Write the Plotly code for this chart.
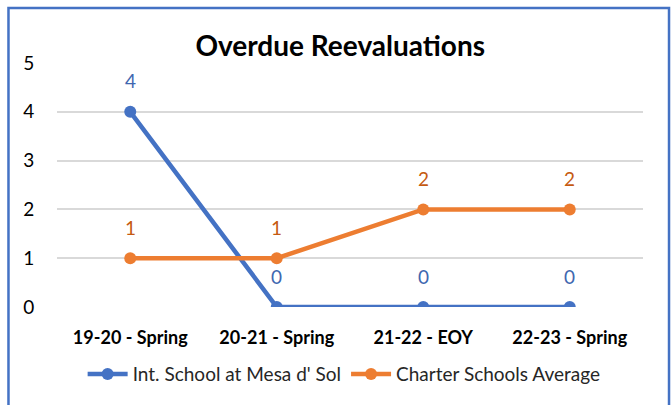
import plotly.graph_objects as go

categories = ["19-20 - Spring", "20-21 - Spring", "21-22 - EOY", "22-23 - Spring"]
school_values = [4, 0, 0, 0]
charter_values = [1, 1, 2, 2]

BLUE = "#4472C4"
ORANGE = "#ED7D31"
FONT = "Lato, Liberation Sans, sans-serif"

fig = go.Figure()
fig.add_trace(go.Scatter(
    x=categories, y=school_values, name="Int. School at Mesa d' Sol",
    mode="lines+markers", line=dict(color=BLUE, width=4.5),
    marker=dict(size=12, color=BLUE)
))
fig.add_trace(go.Scatter(
    x=categories, y=charter_values, name="Charter Schools Average",
    mode="lines+markers", line=dict(color=ORANGE, width=4.5),
    marker=dict(size=12, color=ORANGE)
))

# data labels above each point
for vals, col in [(school_values, "#3F67B0"), (charter_values, "#C55A11")]:
    for c, v in zip(categories, vals):
        fig.add_annotation(x=c, y=v, text=str(v), showarrow=False,
                           yshift=31, font=dict(size=19, color=col, family=FONT))

# outer chart border
fig.add_shape(type="rect", xref="paper", yref="paper",
              x0=-0.0828, x1=1.0444, y0=-0.45, y1=1.2258,
              line=dict(color=BLUE, width=2.5))

fig.update_layout(
    width=671, height=405,
    margin=dict(l=57, r=28, t=63, b=94),
    paper_bgcolor="white", plot_bgcolor="white",
    font=dict(family=FONT, color="#262626"),
    title=dict(text="<b>Overdue Reevaluations</b>", x=0.507, xanchor="center",
               y=0.886, yanchor="middle", font=dict(size=28, color="black", family=FONT)),
    xaxis=dict(type="category", range=[-0.5, 3.5], showgrid=False, showline=False,
               zeroline=False, ticks="outside", ticklen=14, tickcolor="rgba(0,0,0,0)",
               tickfont=dict(size=18, color="black", family=FONT),
               tickprefix="<b>", ticksuffix="</b>"),
    yaxis=dict(range=[0, 5], dtick=1, showgrid=True, gridcolor="#D9D9D9", gridwidth=1.5,
               zeroline=False, showline=False, ticks="outside", ticklen=18,
               tickcolor="rgba(0,0,0,0)", tickfont=dict(size=19, color="black", family=FONT)),
    legend=dict(orientation="h", x=0.49, xanchor="center", y=-0.275, yanchor="middle",
                font=dict(size=19, color="#262626", family=FONT), itemwidth=40),
    showlegend=True,
)

fig.write_html("out.html", config={"displayModeBar": False},
               post_script="document.body.style.margin='0';")
